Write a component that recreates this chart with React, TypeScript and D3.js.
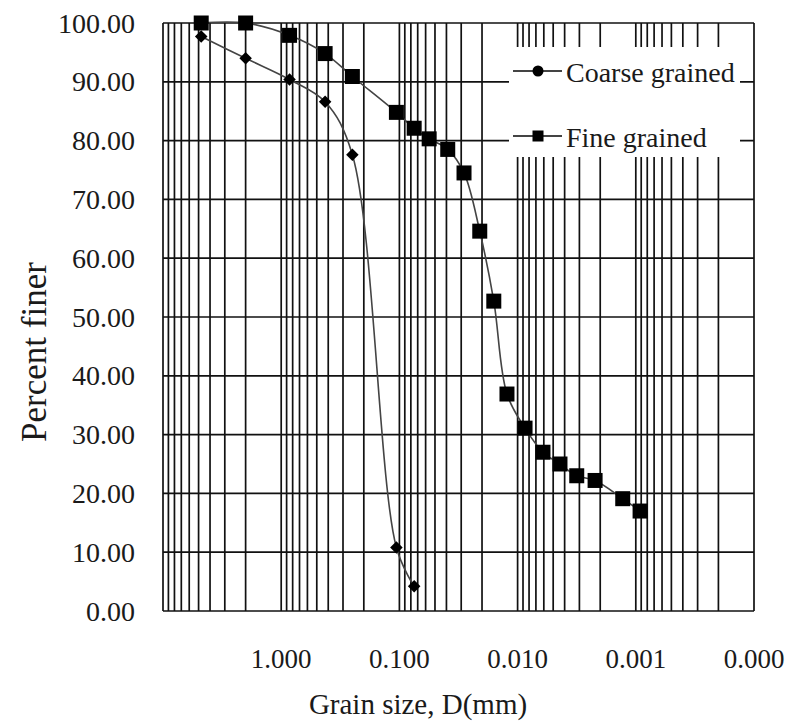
import React, { useEffect, useRef } from 'react';
import * as d3 from 'd3';

// sieve + hydrometer results
const coarseSizes = [4.75, 2.0, 0.85, 0.425, 0.25, 0.106, 0.075];
const coarsePassing = [97.7, 94.0, 90.4, 86.6, 77.6, 10.8, 4.2];

const fineSizes = [4.75, 2.0, 0.85, 0.425, 0.25, 0.106, 0.075, 0.056, 0.039, 0.0284, 0.0209, 0.0159, 0.0123, 0.00865, 0.0061, 0.00438, 0.00316, 0.00221, 0.00129, 0.00092];
const finePassing = [100, 100, 97.9, 94.8, 90.9, 84.8, 82.1, 80.3, 78.5, 74.5, 64.6, 52.7, 36.9, 31.1, 27.0, 25.0, 23.0, 22.2, 19.1, 17.0];

const xTicks = [1, 0.1, 0.01, 0.001, 0.0001];
const yTicks = [0, 10, 20, 30, 40, 50, 60, 70, 80, 90, 100];

const seriesNames = ['Coarse grained', 'Fine grained'];

const W = 787, H = 721;
const FONT = '"Liberation Serif", "Times New Roman", serif';

function App() {
  const ref = useRef(null);

  useEffect(() => {
    const svg = d3.select(ref.current);
    svg.selectAll('*').remove();

    svg.append('rect').attr('width', W).attr('height', H).attr('fill', '#fff');

    const x = d3.scaleLog().domain([10, 0.0001]).range([163, 754]);
    const y = d3.scaleLinear().domain([0, 100]).range([611, 23]);

    // minor + major vertical grid: 1..9 x 10^k
    const vLines = [];
    for (let k = -4; k <= 0; k++) {
      for (let m = 1; m <= 9; m++) vLines.push(m * Math.pow(10, k));
    }
    vLines.push(10);

    const grid = svg.append('g').attr('stroke', '#111').attr('stroke-width', 1.7);
    grid.selectAll('line.v')
      .data(vLines)
      .join('line')
      .attr('class', 'v')
      .attr('x1', d => x(d)).attr('x2', d => x(d))
      .attr('y1', y(0)).attr('y2', y(100));
    grid.selectAll('line.h')
      .data(yTicks)
      .join('line')
      .attr('class', 'h')
      .attr('x1', x(10)).attr('x2', x(0.0001))
      .attr('y1', d => y(d)).attr('y2', d => y(d));

    // y labels
    svg.append('g')
      .selectAll('text')
      .data(yTicks)
      .join('text')
      .attr('x', 135)
      .attr('y', d => y(d) + 9.5)
      .attr('text-anchor', 'end')
      .attr('font-family', FONT)
      .attr('font-size', 28)
      .attr('fill', '#1a1a1a')
      .text(d => d3.format('.2f')(d));

    // x labels
    svg.append('g')
      .selectAll('text')
      .data(xTicks)
      .join('text')
      .attr('x', d => x(d))
      .attr('y', 668)
      .attr('text-anchor', 'middle')
      .attr('font-family', FONT)
      .attr('font-size', 27)
      .attr('fill', '#1a1a1a')
      .text(d => d3.format('.3f')(d));

    svg.append('text')
      .attr('x', 418).attr('y', 714)
      .attr('text-anchor', 'middle')
      .attr('font-family', FONT)
      .attr('font-size', 29)
      .attr('fill', '#1a1a1a')
      .text('Grain size, D(mm)');

    svg.append('text')
      .attr('transform', 'translate(46,352) rotate(-90)')
      .attr('text-anchor', 'middle')
      .attr('font-family', FONT)
      .attr('font-size', 35)
      .attr('fill', '#1a1a1a')
      .text('Percent finer');

    const line = d3.line()
      .x(d => x(d[0]))
      .y(d => y(d[1]))
      .curve(d3.curveCatmullRom.alpha(0.5));

    const coarse = coarseSizes.map((s, i) => [s, coarsePassing[i]]);
    const fine = fineSizes.map((s, i) => [s, finePassing[i]]);

    svg.append('path').datum(coarse).attr('d', line)
      .attr('fill', 'none').attr('stroke', '#444').attr('stroke-width', 1.6);
    svg.append('path').datum(fine).attr('d', line)
      .attr('fill', 'none').attr('stroke', '#444').attr('stroke-width', 1.6);

    const diamond = d3.symbol().type(d3.symbolDiamond2).size(100);
    const square = d3.symbol().type(d3.symbolSquare).size(225);

    svg.append('g').selectAll('path')
      .data(coarse)
      .join('path')
      .attr('d', diamond)
      .attr('transform', d => `translate(${x(d[0])},${y(d[1])})`)
      .attr('fill', '#000');

    svg.append('g').selectAll('path')
      .data(fine)
      .join('path')
      .attr('d', square)
      .attr('transform', d => `translate(${x(d[0])},${y(d[1])})`)
      .attr('fill', '#000');

    // legend
    const lg = svg.append('g');
    lg.append('rect').attr('x', 509).attr('y', 47).attr('width', 231).attr('height', 110).attr('fill', '#fff');
    const rows = [71, 136];
    seriesNames.forEach((name, i) => {
      const ly = rows[i];
      lg.append('line').attr('x1', 513).attr('x2', 562).attr('y1', ly).attr('y2', ly)
        .attr('stroke', '#444').attr('stroke-width', 1.8);
      if (i === 0) {
        lg.append('circle').attr('cx', 538).attr('cy', ly).attr('r', 5.5).attr('fill', '#000');
      } else {
        lg.append('rect').attr('x', 532.5).attr('y', ly - 5.5).attr('width', 11).attr('height', 11).attr('fill', '#000');
      }
      lg.append('text')
        .attr('x', 566).attr('y', ly + 11)
        .attr('font-family', FONT)
        .attr('font-size', 28)
        .attr('fill', '#1a1a1a')
        .text(name);
    });
  }, []);

  return (
    <svg ref={ref} width={W} height={H} style={{ position: 'absolute', left: 0, top: 0 }} />
  );
}

export default App;
